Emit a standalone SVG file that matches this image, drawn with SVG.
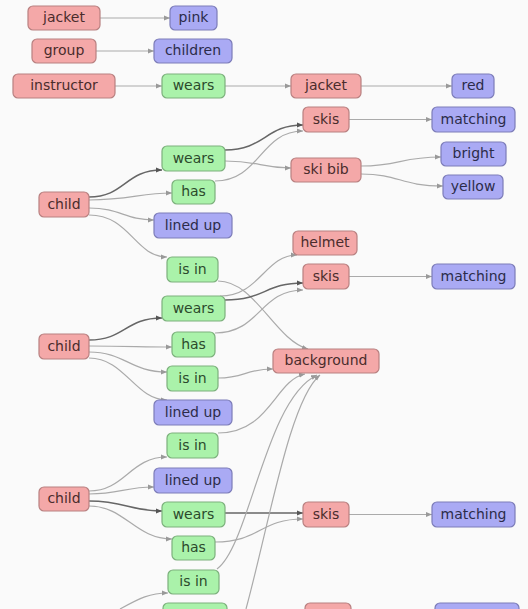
<svg xmlns="http://www.w3.org/2000/svg" width="528" height="609" viewBox="0 0 528 609">
<defs>
<marker id="a" markerUnits="userSpaceOnUse" markerWidth="6" markerHeight="6" refX="6" refY="3" orient="auto"><path d="M0,0.5 L6,3 L0,5.5 z" fill="#999"/></marker>
<marker id="ad" markerUnits="userSpaceOnUse" markerWidth="6" markerHeight="6" refX="6" refY="3" orient="auto"><path d="M0,0.5 L6,3 L0,5.5 z" fill="#555"/></marker>
<style>
.o rect{fill:#f4a8a8;stroke:#b88080;stroke-width:1.2}
.o text{fill:#4a2c2c}
.b rect{fill:#aaaaf4;stroke:#7c7cb8;stroke-width:1.2}
.b text{fill:#2c2c4a}
.g rect{fill:#aaf2aa;stroke:#7cb07c;stroke-width:1.2}
.g text{fill:#2c4a2c}
text{font-family:"DejaVu Sans",sans-serif;font-size:14px;text-anchor:middle}
#edges path{fill:none;stroke:#aaa;stroke-width:1.2;marker-end:url(#a)}
#edges path.d{stroke:#666;stroke-width:1.5;marker-end:url(#ad)}
</style>
</defs>
<rect width="528" height="609" fill="#fafafa"/>
<g id="edges">
<path d="M100,18 L170,18"/>
<path d="M96,51 L154,51"/>
<path d="M115,86 L162,86"/>
<path d="M225,86 L291,86"/>
<path d="M361,86 L452,86"/>
<path class="d" d="M89,197 C125,197 125,170 162,170"/>
<path d="M89,200 C130,200 140,193 172,193"/>
<path d="M89,208 C120,208 125,220 154,220"/>
<path d="M89,215 C130,215 135,257 167,257"/>
<path class="d" d="M225,150 C265,150 265,125 303,125"/>
<path d="M225,161 C260,161 260,168 291,168"/>
<path d="M215,181 C260,181 260,131 303,131"/>
<path d="M349,119.5 L432,119.5"/>
<path d="M361,166 C400,166 400,157 441,157"/>
<path d="M361,174 C400,174 400,186 443,186"/>
<path d="M218,281 C255,281 275,340 308,349"/>
<path class="d" d="M89,340 C125,340 125,318 162,318"/>
<path d="M89,346 C130,346 140,347 172,347"/>
<path d="M89,352 C125,352 130,372 167,372"/>
<path d="M89,358 C125,358 135,400 167,400"/>
<path d="M220,296 C260,296 265,255 297,255"/>
<path class="d" d="M225,300 C265,300 265,283 303,283"/>
<path d="M215,333 C260,333 260,290 303,290"/>
<path d="M349,276.5 L432,276.5"/>
<path d="M218,378 C245,378 245,369 273,369"/>
<path d="M218,433 C270,433 275,380 305,374"/>
<path d="M89,491 C125,491 130,457 167,457"/>
<path d="M89,494 C120,494 125,487 154,487"/>
<path class="d" d="M89,501 C125,501 130,511 162,511"/>
<path d="M89,506 C125,506 135,539 172,539"/>
<path class="d" d="M225,513 L303,513"/>
<path d="M215,542 C260,542 260,519 303,519"/>
<path d="M349,514.5 L432,514.5"/>
<path d="M217,569 C250,545 265,400 317,375"/>
<path d="M246,609 C270,520 290,400 320,375"/>
<path d="M120,609 C140,598 150,593 168,593"/>
</g>
<g id="n1" class="o"><rect x="28" y="6" width="72" height="24" rx="5"/><text x="64" y="22">jacket</text></g>
<g id="n2" class="b"><rect x="170" y="6" width="47" height="24" rx="5"/><text x="193.5" y="22">pink</text></g>
<g id="n3" class="o"><rect x="32" y="39" width="64" height="24" rx="5"/><text x="64" y="55">group</text></g>
<g id="n4" class="b"><rect x="154" y="39" width="78" height="24" rx="5"/><text x="193" y="55">children</text></g>
<g id="n5" class="o"><rect x="13" y="74" width="102" height="24" rx="5"/><text x="64" y="90">instructor</text></g>
<g id="n6" class="g"><rect x="162" y="74" width="63" height="24" rx="5"/><text x="193.5" y="90">wears</text></g>
<g id="n7" class="o"><rect x="291" y="74" width="70" height="24" rx="5"/><text x="326" y="90">jacket</text></g>
<g id="n8" class="b"><rect x="452" y="74" width="42" height="24" rx="5"/><text x="473" y="90">red</text></g>
<g id="n9" class="o"><rect x="39" y="192" width="50" height="25" rx="5"/><text x="64" y="208.5">child</text></g>
<g id="n10" class="g"><rect x="162" y="146" width="63" height="25" rx="5"/><text x="193.5" y="162.5">wears</text></g>
<g id="n11" class="g"><rect x="172" y="180" width="43" height="24" rx="5"/><text x="193.5" y="196">has</text></g>
<g id="n12" class="b"><rect x="154" y="213" width="78" height="25" rx="5"/><text x="193" y="229.5">lined up</text></g>
<g id="n13" class="g"><rect x="167" y="257" width="51" height="25" rx="5"/><text x="192.5" y="273.5">is in</text></g>
<g id="n14" class="o"><rect x="303" y="107" width="46" height="25" rx="5"/><text x="326" y="123.5">skis</text></g>
<g id="n15" class="b"><rect x="432" y="107" width="83" height="25" rx="5"/><text x="473.5" y="123.5">matching</text></g>
<g id="n16" class="o"><rect x="291" y="158" width="70" height="24" rx="5"/><text x="326" y="174">ski bib</text></g>
<g id="n17" class="b"><rect x="441" y="142" width="65" height="24" rx="5"/><text x="473.5" y="158">bright</text></g>
<g id="n18" class="b"><rect x="443" y="175" width="60" height="24" rx="5"/><text x="473" y="191">yellow</text></g>
<g id="n19" class="o"><rect x="293" y="231" width="64" height="24" rx="5"/><text x="325" y="247">helmet</text></g>
<g id="n20" class="o"><rect x="303" y="264" width="46" height="25" rx="5"/><text x="326" y="280.5">skis</text></g>
<g id="n21" class="b"><rect x="432" y="264" width="83" height="25" rx="5"/><text x="473.5" y="280.5">matching</text></g>
<g id="n22" class="o"><rect x="39" y="334" width="50" height="25" rx="5"/><text x="64" y="350.5">child</text></g>
<g id="n23" class="g"><rect x="162" y="296" width="63" height="25" rx="5"/><text x="193.5" y="312.5">wears</text></g>
<g id="n24" class="g"><rect x="172" y="332" width="43" height="25" rx="5"/><text x="193.5" y="348.5">has</text></g>
<g id="n25" class="g"><rect x="167" y="366" width="51" height="25" rx="5"/><text x="192.5" y="382.5">is in</text></g>
<g id="n26" class="o"><rect x="273" y="349" width="106" height="24" rx="5"/><text x="326" y="365">background</text></g>
<g id="n27" class="b"><rect x="154" y="400" width="78" height="25" rx="5"/><text x="193" y="416.5">lined up</text></g>
<g id="n28" class="g"><rect x="167" y="433" width="51" height="25" rx="5"/><text x="192.5" y="449.5">is in</text></g>
<g id="n29" class="b"><rect x="154" y="468" width="78" height="25" rx="5"/><text x="193" y="484.5">lined up</text></g>
<g id="n30" class="o"><rect x="39" y="487" width="50" height="24" rx="5"/><text x="64" y="503">child</text></g>
<g id="n31" class="g"><rect x="162" y="502" width="63" height="25" rx="5"/><text x="193.5" y="518.5">wears</text></g>
<g id="n32" class="o"><rect x="303" y="502" width="46" height="25" rx="5"/><text x="326" y="518.5">skis</text></g>
<g id="n33" class="b"><rect x="432" y="502" width="83" height="25" rx="5"/><text x="473.5" y="518.5">matching</text></g>
<g id="n34" class="g"><rect x="172" y="536" width="43" height="24" rx="5"/><text x="193.5" y="552">has</text></g>
<g id="n35" class="g"><rect x="168" y="570" width="51" height="24" rx="5"/><text x="193.5" y="586">is in</text></g>
<g id="n36" class="g"><rect x="163" y="603" width="64" height="25" rx="5"/></g>
<g id="n37" class="o"><rect x="305" y="603" width="46" height="25" rx="5"/></g>
<g id="n38" class="b"><rect x="435" y="603" width="84" height="25" rx="5"/></g>
</svg>
